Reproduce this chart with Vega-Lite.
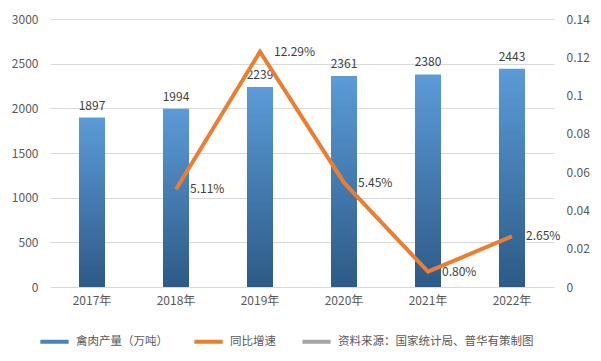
{
  "$schema": "https://vega.github.io/schema/vega-lite/v6.json",
  "width": 504,
  "height": 268,
  "autosize": {"type": "none"},
  "padding": {"left": 50, "top": 19, "right": 47, "bottom": 74},
  "background": "white",
  "config": {
    "font": "Noto Sans CJK SC",
    "view": {"stroke": null},
    "axis": {"labelColor": "#595959", "labelFontSize": 12, "ticks": false, "domain": false, "title": null, "labelFont": "Noto Sans CJK SC", "labelOverlap": false},
    "legend": {"labelColor": "#595959", "labelFontSize": 11.5, "labelFont": "Noto Sans CJK SC", "labelLimit": 400}
  },
  "data": {
    "values": [
      {"year": "2017年", "output": 1897, "rate": null},
      {"year": "2018年", "output": 1994, "rate": 0.0511},
      {"year": "2019年", "output": 2239, "rate": 0.1229},
      {"year": "2020年", "output": 2361, "rate": 0.0545},
      {"year": "2021年", "output": 2380, "rate": 0.0080},
      {"year": "2022年", "output": 2443, "rate": 0.0265}
    ]
  },
  "encoding": {
    "x": {
      "field": "year",
      "type": "ordinal",
      "sort": null,
      "scale": {"paddingInner": 0.69, "paddingOuter": 0.345},
      "axis": {"labelAngle": 0, "labelPadding": 8, "grid": false}
    }
  },
  "layer": [
    {
      "layer": [
        {
          "mark": {
            "type": "bar",
            "fill": {
              "gradient": "linear",
              "x1": 0, "y1": 0, "x2": 0, "y2": 1,
              "stops": [
                {"offset": 0, "color": "#5B9BD8"},
                {"offset": 1, "color": "#2D5A86"}
              ]
            }
          },
          "encoding": {
            "y": {
              "field": "output",
              "type": "quantitative",
              "scale": {"domain": [0, 3000], "nice": false},
              "axis": {"values": [0, 500, 1000, 1500, 2000, 2500, 3000], "format": "d", "grid": true, "gridColor": "#D9D9D9", "labelPadding": 12, "orient": "left", "labelOverlap": false}
            }
          }
        },
        {
          "mark": {"type": "text", "baseline": "bottom", "dy": -5, "fontSize": 12, "color": "#404040"},
          "encoding": {
            "y": {"field": "output", "type": "quantitative"},
            "text": {"field": "output", "type": "quantitative", "format": "d"}
          }
        }
      ]
    },
    {
      "transform": [{"filter": "datum.rate != null"}],
      "layer": [
        {
          "mark": {"type": "line", "strokeWidth": 4, "strokeJoin": "miter"},
          "encoding": {
            "y": {
              "field": "rate",
              "type": "quantitative",
              "scale": {"domain": [0, 0.14], "nice": false},
              "axis": {"orient": "right", "values": [0, 0.02, 0.04, 0.06, 0.08, 0.1, 0.12, 0.14], "format": "~g", "grid": false, "labelPadding": 12, "labelOverlap": false, "labelFlush": false, "tickCount": 8}
            },
            "color": {
              "datum": "同比增速",
              "type": "nominal",
              "scale": {
                "domain": ["禽肉产量（万吨）", "同比增速", "资料来源：国家统计局、普华有策制图"],
                "range": ["#4A83BE", "#ED7D31", "#A5A5A5"]
              },
              "legend": {
                "title": null,
                "orient": "none",
                "direction": "horizontal",
                "legendX": -12,
                "legendY": 306,
                "symbolType": "stroke",
                "symbolSize": 800,
                "symbolStrokeWidth": 4,
                "labelOffset": 5,
                "columnPadding": 18
              }
            }
          }
        },
        {
          "mark": {"type": "text", "align": "left", "baseline": "middle", "dx": 14, "fontSize": 12, "color": "#404040"},
          "encoding": {
            "y": {"field": "rate", "type": "quantitative"},
            "text": {"field": "rate", "type": "quantitative", "format": ".2%"}
          }
        }
      ]
    }
  ],
  "resolve": {"scale": {"y": "independent"}}
}
